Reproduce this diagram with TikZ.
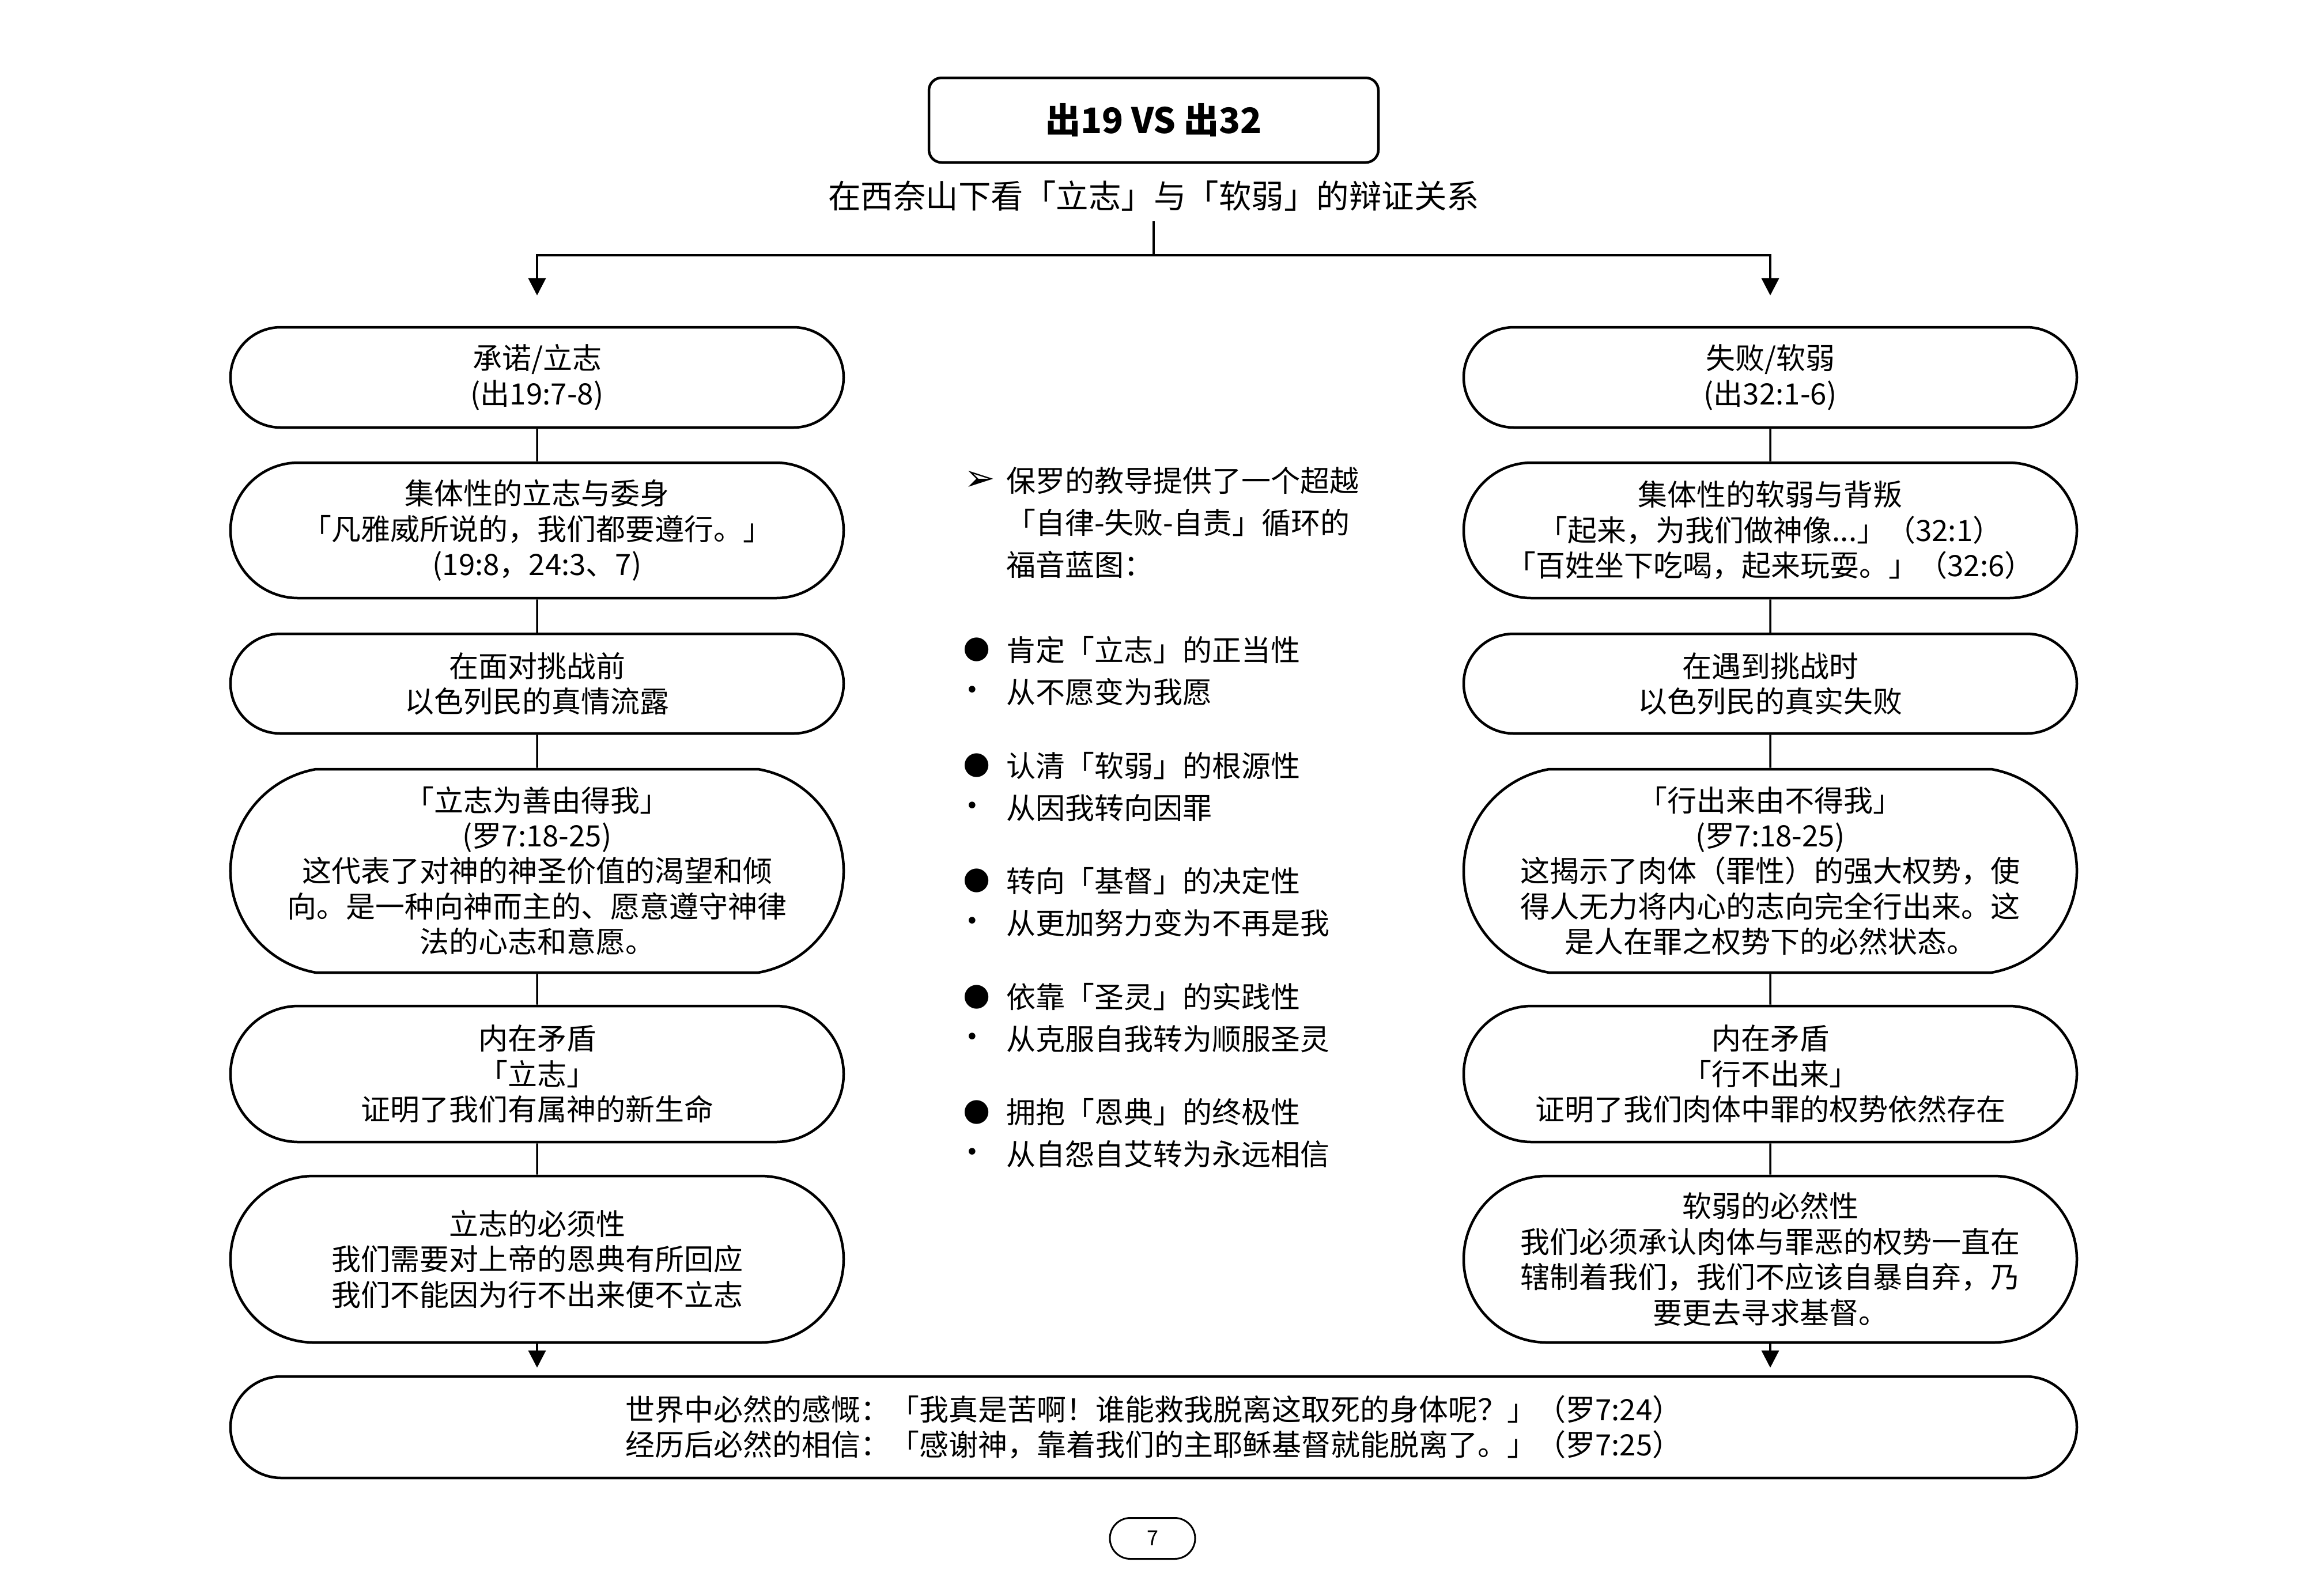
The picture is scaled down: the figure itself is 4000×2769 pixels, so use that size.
\documentclass[tikz,border=0pt]{standalone}
\usepackage{fontspec}
\setmainfont{Noto Sans CJK SC}
\newfontfamily\symfont{DejaVu Sans}
\usetikzlibrary{shapes.misc,arrows.meta}
\begin{document}
\begin{tikzpicture}[x=1pt,y=-1pt,
  box/.style={rounded rectangle, draw, line width=4.5pt, minimum width=1064pt,
    inner sep=0pt, align=center, font=\fontsize{51pt}{61.4pt}\selectfont},
  conn/.style={line width=3.5pt},
  arr/.style={line width=4pt, -{Triangle[length=30pt,width=30pt]}},
  midtxt/.style={anchor=west, inner sep=0pt, font=\fontsize{51pt}{73pt}\selectfont},
  bigdot/.style={inner sep=0pt, font=\symfont\fontsize{54pt}{60pt}\selectfont},
  smalldot/.style={inner sep=0pt, font=\symfont\fontsize{40pt}{50pt}\selectfont},
]
\useasboundingbox (0,0) rectangle (4000,2769);
\fill[white] (0,0) rectangle (4000,2769);

% title
\node[draw, rounded corners=22pt, line width=4.5pt, minimum width=780pt, minimum height=147pt,
  font=\fontsize{61pt}{70pt}\selectfont\bfseries] (title) at (2002,208.5) {出19 VS 出32};
\node[inner sep=0pt, minimum height=88pt, font=\fontsize{56.5pt}{62pt}\selectfont] (sub) at (2002,340)
  {在西奈山下看「立志」与「软弱」的辩证关系};
\coordinate (split) at (2002,443);

% left column
\node[box, minimum height=174pt] (L1) at (932,655) {承诺/立志\\(出19:7-8)};
\node[box, minimum height=235pt] (L2) at (932,920.5) {集体性的立志与委身\\「凡雅威所说的，我们都要遵行。」\\(19:8，24:3、7)};
\node[box, minimum height=173pt] (L3) at (932,1186.5) {在面对挑战前\\以色列民的真情流露};
\node[box, minimum height=353pt, rounded rectangle arc length=160] (L4) at (932,1511.5)
  {「立志为善由得我」\\(罗7:18-25)\\这代表了对神的神圣价值的渴望和倾\\向。是一种向神而主的、愿意遵守神律\\法的心志和意愿。};
\node[box, minimum height=236pt] (L5) at (932,1864) {内在矛盾\\「立志」\\证明了我们有属神的新生命};
\node[box, minimum height=289pt] (L6) at (932,2185.5) {立志的必须性\\我们需要对上帝的恩典有所回应\\我们不能因为行不出来便不立志};

% right column
\node[box, minimum height=174pt] (R1) at (3072,655) {失败/软弱\\(出32:1-6)};
\node[box, minimum height=235pt] (R2) at (3072,920.5) {集体性的软弱与背叛\\「起来，为我们做神像...」（32:1）\\「百姓坐下吃喝，起来玩耍。」（32:6）};
\node[box, minimum height=173pt] (R3) at (3072,1186.5) {在遇到挑战时\\以色列民的真实失败};
\node[box, minimum height=353pt, rounded rectangle arc length=160] (R4) at (3072,1511.5)
  {「行出来由不得我」\\(罗7:18-25)\\这揭示了肉体（罪性）的强大权势，使\\得人无力将内心的志向完全行出来。这\\是人在罪之权势下的必然状态。};
\node[box, minimum height=236pt] (R5) at (3072,1864) {内在矛盾\\「行不出来」\\证明了我们肉体中罪的权势依然存在};
\node[box, minimum height=289pt] (R6) at (3072,2185.5) {软弱的必然性\\我们必须承认肉体与罪恶的权势一直在\\辖制着我们，我们不应该自暴自弃，乃\\要更去寻求基督。};

% bottom box
\node[box, minimum width=3204pt, minimum height=176pt] (B) at (2002,2477)
  {世界中必然的感慨：「我真是苦啊！谁能救我脱离这取死的身体呢？」（罗7:24）\\经历后必然的相信：「感谢神，靠着我们的主耶稣基督就能脱离了。」（罗7:25）};

% page number
\node[rounded rectangle, draw, line width=3pt, minimum width=148pt, minimum height=71pt, inner sep=0pt,
  font=\fontsize{36pt}{40pt}\selectfont] (pg) at (2000,2670) {7};

% middle text
\node[inner sep=0pt, font=\symfont\fontsize{64pt}{70pt}\selectfont] (m0b) at (1700,834) {➢};
\node[midtxt] (m0) at (1746,834) {保罗的教导提供了一个超越};
\node[midtxt] (m0x) at (1746,907) {「自律-失败-自责」循环的};
\node[midtxt] (m0y) at (1746,980) {福音蓝图：};

\node[bigdot] (b1) at (1695,1128) {●};
\node[midtxt] (t1) at (1746,1128) {肯定「立志」的正当性};
\node[smalldot] (s1) at (1687,1201) {•};
\node[midtxt] (u1) at (1746,1201) {从不愿变为我愿};

\node[bigdot] (b2) at (1695,1329) {●};
\node[midtxt] (t2) at (1746,1329) {认清「软弱」的根源性};
\node[smalldot] (s2) at (1687,1402) {•};
\node[midtxt] (u2) at (1746,1402) {从因我转向因罪};

\node[bigdot] (b3) at (1695,1529) {●};
\node[midtxt] (t3) at (1746,1529) {转向「基督」的决定性};
\node[smalldot] (s3) at (1687,1602) {•};
\node[midtxt] (u3) at (1746,1602) {从更加努力变为不再是我};

\node[bigdot] (b4) at (1695,1730) {●};
\node[midtxt] (t4) at (1746,1730) {依靠「圣灵」的实践性};
\node[smalldot] (s4) at (1687,1803) {•};
\node[midtxt] (u4) at (1746,1803) {从克服自我转为顺服圣灵};

\node[bigdot] (b5) at (1695,1930) {●};
\node[midtxt] (t5) at (1746,1930) {拥抱「恩典」的终极性};
\node[smalldot] (s5) at (1687,2003) {•};
\node[midtxt] (u5) at (1746,2003) {从自怨自艾转为永远相信};

% connectors
\draw[conn] (sub.south) -- (split);
\draw[arr, shorten >=53pt] (split) -| (L1.north);
\draw[arr, shorten >=53pt] (split) -| (R1.north);
\draw[conn] (L1) -- (L2);
\draw[conn] (L2) -- (L3);
\draw[conn] (L3) -- (L4);
\draw[conn] (L4) -- (L5);
\draw[conn] (L5) -- (L6);
\draw[conn] (R1) -- (R2);
\draw[conn] (R2) -- (R3);
\draw[conn] (R3) -- (R4);
\draw[conn] (R4) -- (R5);
\draw[conn] (R5) -- (R6);
\draw[arr, shorten >=13pt] (L6.south) -- (L6.south |- B.north);
\draw[arr, shorten >=13pt] (R6.south) -- (R6.south |- B.north);
\end{tikzpicture}
\end{document}
